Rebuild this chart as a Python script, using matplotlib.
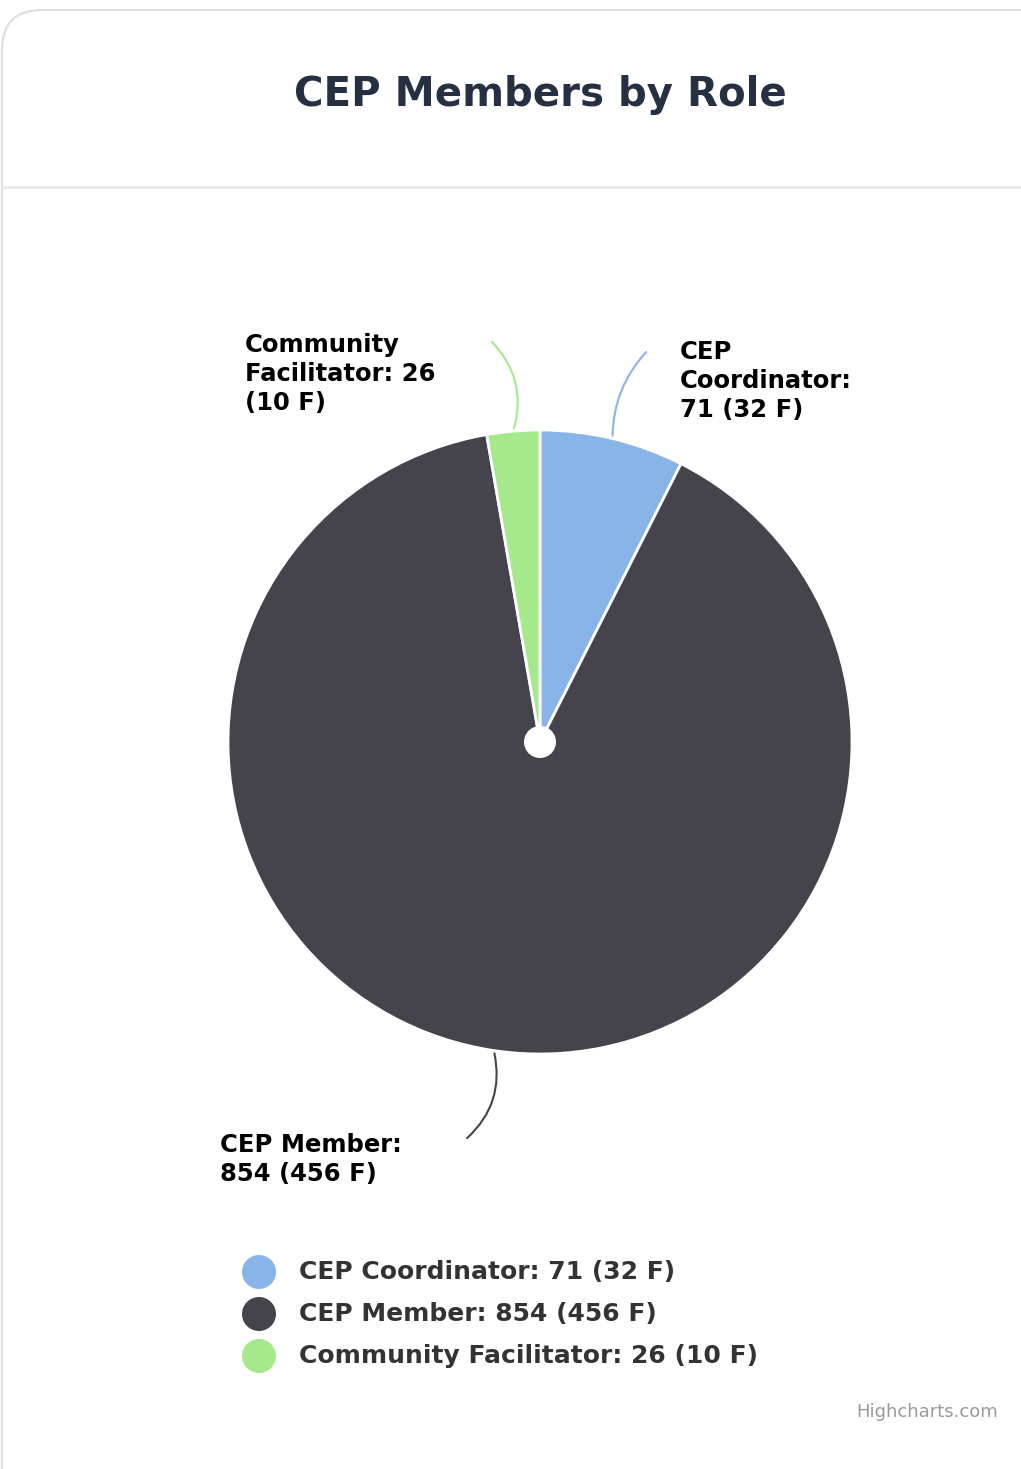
import matplotlib.pyplot as plt
import numpy as np
from matplotlib.patches import FancyBboxPatch, Circle

roles = ["CEP Coordinator", "CEP Member", "Community Facilitator"]
counts = [71, 854, 26]
female = [32, 456, 10]
colors = ["#88b4e7", "#45444c", "#a6e98c"]

W, H = 1021, 1469
fig = plt.figure(figsize=(W/100, H/100), dpi=100)
ax = fig.add_axes([0, 0, 1, 1])
ax.set_xlim(0, W); ax.set_ylim(0, H); ax.axis('off')
ax.set_aspect('equal')
Y = lambda py: H - py

# card
ax.add_patch(FancyBboxPatch((2, -60), W + 60, H + 50, boxstyle="round,pad=0,rounding_size=40",
                            fc="white", ec="#dddddd", lw=1.5))
ax.plot([2, W], [Y(187), Y(187)], color="#e5e7eb", lw=2)
ax.text(540, Y(95), "CEP Members by Role", ha='center', va='center', fontsize=29,
        fontweight='bold', color="#253042")

cx, cy, R = 540, Y(742), 312
ax.pie(counts, colors=colors, startangle=90, counterclock=False, center=(cx, cy), radius=R,
       wedgeprops=dict(edgecolor='white', linewidth=2), frame=True)
ax.set_xlim(0, W); ax.set_ylim(0, H); ax.axis('off')
ax.add_patch(Circle((cx, cy), 16, fc='white', ec='none', zorder=5))

labels = [f"{r}: {c} ({f} F)" for r, c, f in zip(roles, counts, female)]
plabels = ["CEP\nCoordinator:\n%d (%d F)" % (counts[0], female[0]),
           "CEP Member:\n%d (%d F)" % (counts[1], female[1]),
           "Community\nFacilitator: %d\n(%d F)" % (counts[2], female[2])]
# label positions (pixels) and connector ends
spots = [((680, 340), (648, 350), -0.2), ((220, 1133), (465, 1140), -0.3), ((245, 333), (490, 340), 0.3)]
total = sum(counts)
start = 90
for i, c in enumerate(counts):
    ang = np.deg2rad(start - 360 * c / total / 2)
    start -= 360 * c / total
    ex, ey = cx + R * np.cos(ang), cy + R * np.sin(ang)
    (tx, ty), (lx, ly), rad = spots[i]
    ax.text(tx, Y(ty), plabels[i], ha='left', va='top', fontsize=17.5, fontweight='bold',
            color='black', linespacing=1.25)
    ax.annotate("", xy=(lx, Y(ly)), xytext=(ex, ey),
                arrowprops=dict(arrowstyle='-', color=colors[i], lw=1.5,
                                connectionstyle=f"arc3,rad={rad}"))

for i, lab in enumerate(labels):
    yy = Y(1272 + 42 * i)
    ax.add_patch(Circle((259, yy), 17, fc=colors[i], ec='none'))
    ax.text(299, yy, lab, ha='left', va='center', fontsize=18, fontweight='bold', color='#333333')

ax.text(998, Y(1412), "Highcharts.com", ha='right', va='center', fontsize=13, color='#999999')
fig.savefig("out.png", dpi=100)
